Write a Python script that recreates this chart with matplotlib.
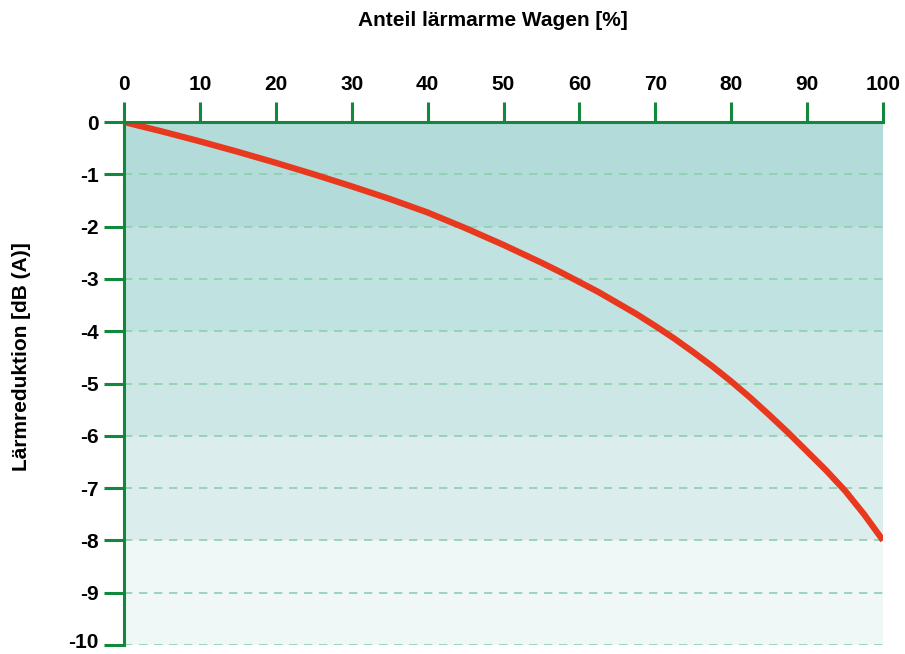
import matplotlib
matplotlib.use("Agg")
import matplotlib.pyplot as plt
from matplotlib.transforms import ScaledTranslation

# Data
anteil = [0, 5, 10, 15, 20, 25, 30, 35, 40, 45, 50, 55, 57.5, 60, 62.5, 65, 67.5,
          70, 72.5, 75, 77.5, 80, 82.5, 85, 87.5, 90, 92.5, 95, 97.5, 100]
reduktion = [0, -0.18, -0.37, -0.57, -0.78, -1.0, -1.23, -1.47, -1.73, -2.03, -2.35,
             -2.69, -2.87, -3.06, -3.25, -3.46, -3.67, -3.9, -4.14, -4.4, -4.67,
             -4.96, -5.27, -5.6, -5.94, -6.3, -6.66, -7.05, -7.5, -8.0]
x_ticks = [0, 10, 20, 30, 40, 50, 60, 70, 80, 90, 100]
y_ticks = [0, -1, -2, -3, -4, -5, -6, -7, -8, -9, -10]
band_edges = [0, -2, -4, -6, -8, -10]
band_colors = ["#b3dbd9", "#c0e2e0", "#cde7e7", "#dbeeed", "#eff7f7"]

GREEN = "#12883c"
plt.rcParams['font.family'] = ['Liberation Sans', 'DejaVu Sans']
FS = 15

fig = plt.figure(figsize=(9.05, 6.54), dpi=100)
ax = fig.add_axes([124/905, 1-645/654, (883-124)/905, (645-122)/654])

for i, c in enumerate(band_colors):
    ax.axhspan(band_edges[i+1], band_edges[i], color=c, lw=0, zorder=0)

for y in y_ticks[1:]:
    ax.axhline(y, color="#8dcfae", lw=1.2, dashes=(5, 4), zorder=1)

ax.plot(anteil, reduktion, color="#e8381e", lw=4.5, solid_capstyle='butt',
        solid_joinstyle='round', zorder=3)

ax.set_xlim(0, 100)
ax.set_ylim(-10, 0)
ax.xaxis.tick_top()
ax.set_xticks(x_ticks)
ax.set_yticks(y_ticks)
ax.set_xticklabels([str(v) for v in x_ticks], fontsize=FS, fontweight='bold')
ax.set_yticklabels([str(v) for v in y_ticks], fontsize=FS, fontweight='bold')
ax.tick_params(axis='x', direction='out', length=14.4, width=2.2, color=GREEN, pad=6)
ax.tick_params(axis='y', direction='out', length=14.4, width=2.2, color=GREEN, pad=4)

# nudge the bottom label up so it stays inside the picture
lbl = ax.get_yticklabels()[-1]
lbl.set_transform(lbl.get_transform() + ScaledTranslation(0, 3/72, fig.dpi_scale_trans))

for s in ['right', 'bottom']:
    ax.spines[s].set_visible(False)
for s in ['left', 'top']:
    ax.spines[s].set_color(GREEN)
    ax.spines[s].set_linewidth(2.2)
    ax.spines[s].set_zorder(4)
ax.spines['left'].set_bounds(-10, 0)

fig.text(493/905, 1-20/654, "Anteil lärmarme Wagen [%]", ha='center', va='center',
         fontsize=FS, fontweight='bold')
fig.text(22/905, 1-357/654, "Lärmreduktion [dB (A)]", ha='center', va='center',
         rotation=90, fontsize=FS, fontweight='bold')

fig.savefig("out.png", dpi=100)
